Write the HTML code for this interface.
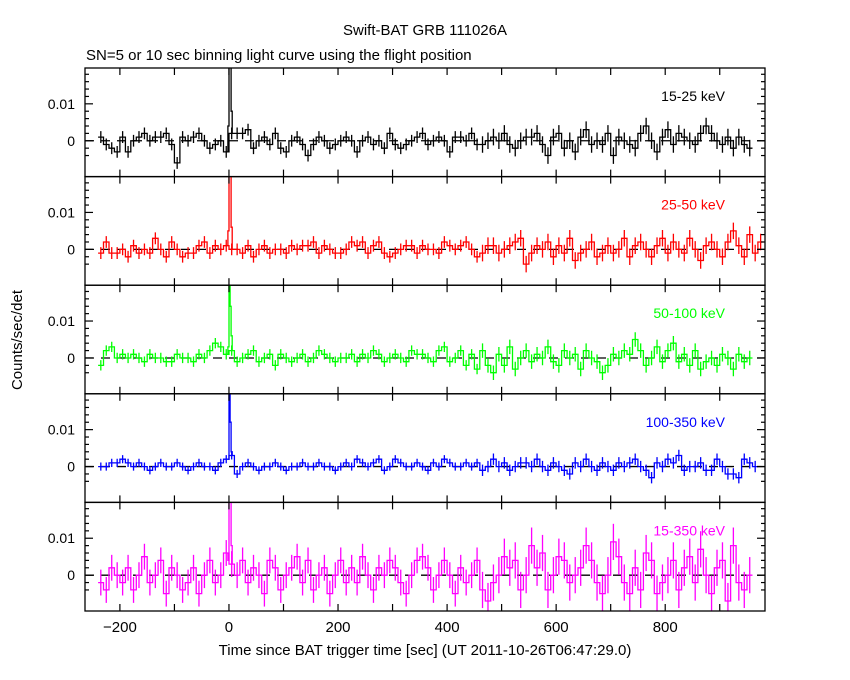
<!DOCTYPE html>
<html><head><meta charset="utf-8"><style>
html,body{margin:0;padding:0;background:#fff;}
svg{display:block;font-family:"Liberation Sans",sans-serif;}
</style></head><body>
<svg id="chart" width="850" height="680" viewBox="0 0 850 680" xmlns="http://www.w3.org/2000/svg">
<text x="425" y="35" text-anchor="middle" font-size="15">Swift-BAT GRB 111026A</text>
<text x="86" y="60" font-size="15">SN=5 or 10 sec binning light curve using the flight position</text>
<text transform="translate(22,340) rotate(-90)" text-anchor="middle" font-size="15">Counts/sec/det</text>
<text x="425" y="655" text-anchor="middle" font-size="15">Time since BAT trigger time [sec] (UT 2011-10-26T06:47:29.0)</text>
<g id="panels"></g>
</svg>
<script>
const bands = ["15-25 keV","25-50 keV","50-100 keV","100-350 keV","15-350 keV"];
const colors = ["#000000","#ff0000","#00ff00","#0000ff","#ff00ff"];
const binStart = -240;
const binWidth = 10;
const xTicks = [-200,0,200,400,600,800];
const yTicks = [0,0.01];
const yTickLabels = ["0","0.01"];
// values in units of 0.001 counts/sec/det, bins of 10 s from -240 s
const v1 = [1,-1,-2,-3,1,-3,0,1,2,0,1,1,2,-1,-6,1,0,1,2,0,-2,-1,0,-3,2,2,2,3,-2,0,1,-1,2,-2,-3,0,1,-1,-4,-1,1,0,-2,-1,0,1,0,-3,0,1,-1,0,-2,2,-1,-2,-1,0,1,2,-1,0,1,0,-3,1,1,0,2,-1,-1,0,1,0,2,-1,-2,0,1,1,2,-1,-4,1,2,-2,0,-3,1,3,-1,0,-1,2,-4,1,0,-1,-2,2,4,0,-3,1,3,-1,2,1,0,-1,2,4,2,0,-1,1,-2,1,-1,-2];
const v2 = [-1,2,-1,-1,0,-2,1,-1,0,-1,3,0,-2,2,0,-2,-1,-1,1,2,-1,1,0,1,0,0,-1,1,-2,0,1,-1,0,0,-1,1,0,1,1,2,-1,1,0,-1,-1,0,2,1,2,-1,1,2,-1,-2,-1,0,1,1,-1,1,0,0,-1,2,1,0,1,2,0,-2,-1,1,1,-1,0,1,2,3,-4,-1,1,0,2,-2,1,-1,3,-3,-1,0,2,-2,-1,1,-1,0,3,-2,1,2,0,-2,1,3,-1,2,0,-1,3,0,-3,1,2,0,-2,2,5,1,-2,4,-1,2];
const v3 = [-2,2,3,0,1,0,1,0,-1,1,0,0,-1,-1,1,0,0,-1,1,0,2,4,3,1,2,-1,0,1,2,-1,0,1,-2,1,0,-1,0,1,-1,0,2,1,0,-1,0,0,1,-1,1,0,2,1,-1,0,1,0,-1,2,1,1,0,-1,2,3,-1,0,2,-2,1,-3,2,-2,-4,1,-2,3,-3,0,2,-1,1,0,3,-1,-2,2,0,1,-3,2,0,-1,-4,-2,1,0,2,1,5,2,-2,0,3,-1,2,4,-1,1,-2,2,-3,-1,0,-2,1,0,-3,1,-1,0];
const v4 = [0,0,1,1,2,1,0,1,0,-1,0,1,0,0,1,0,-1,0,1,0,0,-1,1,2,3,-2,0,1,0,-1,0,0,1,0,-1,0,0,1,0,0,1,0,0,-1,0,1,0,2,1,0,1,2,-1,0,2,1,0,0,1,0,-1,1,0,2,1,0,0,1,0,1,-1,0,2,0,1,-1,0,1,1,0,2,0,-1,1,0,-1,-2,1,0,2,0,-1,1,0,-1,1,0,1,2,0,-1,-3,1,0,2,1,3,-1,0,0,1,-1,-1,2,0,-2,-2,-3,2,1,0];
const v5 = [-2,-4,2,0,-2,2,-4,0,5,-2,0,4,-5,2,0,-4,-2,2,-5,0,4,-2,0,6,3,0,4,-2,2,0,-5,4,2,-4,0,2,5,-2,4,-4,0,2,-5,0,4,-2,2,-2,5,0,-4,2,0,4,2,-2,-5,0,4,5,2,-4,0,4,0,-5,2,-2,0,4,-4,-7,-2,0,5,2,4,-4,0,8,2,6,-4,0,5,4,-2,0,2,8,4,-2,-5,0,9,5,-2,-5,2,-4,6,4,-5,-2,0,4,-4,2,5,-2,7,0,-5,2,4,-7,8,-2,-4,0];
// narrow peak bins near trigger (2 s wide, starting at t=-2)
const peakStart = -2;
const peakWidth = 2;
const p1 = [4,30,30,8];
const p2 = [5,30,30,6];
const p3 = [3,20,14,6];
const p4 = [2,20,12,4];
const p5 = [4,30,30,8];
const peaks = [p1,p2,p3,p4,p5];
const errs = [1.6,1.6,1.4,1.1,3.5];
const series = [v1,v2,v3,v4,v5];

const L=85,R=765,T=68,B=611;
const PH=(B-T)/5;
const tMin=-264, tMax=983;
const yMin=-0.0097, yMax=0.0197;
function xs(t){return L+(t-tMin)/(tMax-tMin)*(R-L);}
function ys(p,v){const top=T+p*PH;return top+(yMax-v)/(yMax-yMin)*PH;}
const NS="http://www.w3.org/2000/svg";
const root=document.getElementById('panels');
function mk(tag,attrs,parent){const e=document.createElementNS(NS,tag);for(const k in attrs)e.setAttribute(k,attrs[k]);(parent||root).appendChild(e);return e;}

for(let p=0;p<5;p++){
  const g=mk('g',{});
  
  
  const top=T+p*PH, bot=top+PH;
  const cid='clip'+p;
  const cp=mk('clipPath',{id:cid},g);
  mk('rect',{x:L,y:top,width:R-L,height:PH},cp);
  const z=mk('line',{x1:L,x2:R,y1:ys(p,0),y2:ys(p,0),stroke:'#000','stroke-width':1.3,'stroke-dasharray':'9,7'},g);
  
  
  const vals=series[p];
  let d='';
  const dg=mk('g',{'clip-path':'url(#'+cid+')',stroke:colors[p],'stroke-width':1.3,fill:'none'},g);
  
  
  for(let i=0;i<vals.length;i++){
    const t0=binStart+i*binWidth, t1=t0+binWidth;
    const v=vals[i]*0.001;
    const y=ys(p,v);
    d+=(i===0?'M':'L')+xs(t0).toFixed(1)+','+y.toFixed(1)+'L'+xs(t1).toFixed(1)+','+y.toFixed(1);
    const e=errs[p]*0.001*(t0>450?1.4:1);
    const xc=xs(t0+binWidth/2);
    const eb=mk('line',{x1:xc,x2:xc,y1:ys(p,v+e),y2:ys(p,v-e)},dg);
    
    
  }
  const path=mk('path',{d:d},dg);
  
  
  // peak
  const pk=peaks[p];
  let pd='M'+xs(peakStart).toFixed(1)+','+ys(p,0.001*vals[23]).toFixed(1);
  for(let i=0;i<pk.length;i++){
    const t0=peakStart+i*peakWidth,t1=t0+peakWidth;const y=ys(p,pk[i]*0.001);
    pd+='L'+xs(t0).toFixed(1)+','+y.toFixed(1)+'L'+xs(t1).toFixed(1)+','+y.toFixed(1);
  }
  pd+='L'+xs(peakStart+pk.length*peakWidth).toFixed(1)+','+ys(p,0.001*vals[24]).toFixed(1);
  const pp=mk('path',{d:pd},dg);
  
  
  const fr=mk('rect',{x:L,y:top,width:R-L,height:PH,fill:'none',stroke:'#000','stroke-width':1.3},g);
  
  
  for(let t=-200;t<=900;t+=100){
    const x=xs(t);
    mk('line',{x1:x,x2:x,y1:top,y2:top+7,stroke:'#000','stroke-width':1.2},g);
    mk('line',{x1:x,x2:x,y1:bot,y2:bot-7,stroke:'#000','stroke-width':1.2},g);
  }
  for(let k=-4;k<=18;k+=2){
    const v=k*0.001;const y=ys(p,v);
    const len=(k%10===0)?8:4;
    mk('line',{x1:L,x2:L+len,y1:y,y2:y,stroke:'#000','stroke-width':1.2},g);
    mk('line',{x1:R,x2:R-len,y1:y,y2:y,stroke:'#000','stroke-width':1.2},g);
  }
  for(let k=0;k<yTicks.length;k++){
    const tl=mk('text',{x:L-10,y:ys(p,yTicks[k])+5,'text-anchor':'end','font-size':14},g);
    tl.textContent=yTickLabels[k];
    
    
  }
  const bl=mk('text',{x:725,y:top+33,'text-anchor':'end','font-size':14,fill:colors[p]},g);
  bl.textContent=bands[p];
  
  
}
for(const t of xTicks){
  const tl=mk('text',{x:xs(t),y:632,'text-anchor':'middle','font-size':15});
  tl.textContent=(t<0?'\u2212':'')+Math.abs(t);
  
  
}
</script>
</body></html>
